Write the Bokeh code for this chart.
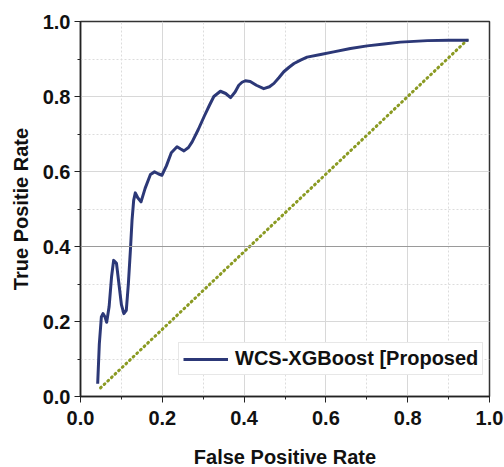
from bokeh.plotting import figure
from bokeh.embed import file_html
from bokeh.resources import INLINE
from bokeh.models import (Range1d, SingleIntervalTicker, PrintfTickFormatter,
                          Legend, LegendItem, Span)

# ROC curve
fpr = [0.042, 0.046, 0.051, 0.055, 0.060, 0.064, 0.070, 0.076, 0.081, 0.088,
       0.094, 0.100, 0.106, 0.112, 0.117, 0.122, 0.126, 0.130, 0.134, 0.140,
       0.148, 0.158, 0.171, 0.181, 0.190, 0.199, 0.210, 0.222, 0.236, 0.245,
       0.253, 0.264, 0.273, 0.288, 0.302, 0.315, 0.326, 0.342, 0.355, 0.367,
       0.378, 0.387, 0.395, 0.403, 0.415, 0.430, 0.448, 0.462, 0.473, 0.485,
       0.497, 0.510, 0.522, 0.538, 0.554, 0.587, 0.619, 0.660, 0.701, 0.742,
       0.782, 0.848, 0.900, 0.949]
tpr = [0.034, 0.140, 0.212, 0.221, 0.212, 0.198, 0.240, 0.320, 0.363, 0.355,
       0.300, 0.245, 0.221, 0.230, 0.300, 0.390, 0.470, 0.523, 0.543, 0.530,
       0.519, 0.555, 0.592, 0.599, 0.594, 0.590, 0.615, 0.650, 0.666, 0.660,
       0.655, 0.664, 0.679, 0.712, 0.746, 0.776, 0.800, 0.814, 0.808, 0.797,
       0.812, 0.830, 0.838, 0.842, 0.840, 0.830, 0.821, 0.826, 0.835, 0.850,
       0.866, 0.878, 0.888, 0.897, 0.905, 0.912, 0.919, 0.928, 0.935, 0.940,
       0.945, 0.949, 0.950, 0.950]
chance_x = [0.049, 0.945]
chance_y = [0.023, 0.950]
series_label = "WCS-XGBoost [Proposed"
x_title = "False Positive Rate"
y_title = "True Positie Rate"

FONT = "Liberation Sans"

p = figure(width=504, height=467, output_backend="svg", toolbar_location=None,
           x_range=Range1d(0, 1), y_range=Range1d(0, 1),
           min_border_left=80, min_border_right=15, min_border_top=21,
           min_border_bottom=71)
p.frame_width = 409
p.frame_height = 375
p.background_fill_color = "white"
p.border_fill_color = "white"
p.outline_line_color = "#333333"
p.outline_line_width = 1.5

for ax, title in ((p.xaxis[0], x_title), (p.yaxis[0], y_title)):
    ax.ticker = SingleIntervalTicker(interval=0.2, num_minor_ticks=2)
    ax.formatter = PrintfTickFormatter(format="%.1f")
    ax.axis_label = title
    ax.axis_label_text_font = FONT
    ax.axis_label_text_font_style = "bold"
    ax.axis_label_text_font_size = "20px"
    ax.axis_label_text_color = "#111111"
    ax.major_label_text_font = FONT
    ax.major_label_text_font_style = "bold"
    ax.major_label_text_font_size = "20px"
    ax.major_label_text_color = "#111111"
    ax.axis_line_color = "#222222"
    ax.axis_line_width = 1.5
    ax.major_tick_line_color = "#222222"
    ax.minor_tick_line_color = "#222222"
    ax.major_tick_out = 6
    ax.major_tick_in = 0
    ax.minor_tick_out = 3
    ax.minor_tick_in = 0

p.xaxis[0].major_label_standoff = 8
p.yaxis[0].major_label_standoff = 4
p.xaxis[0].axis_label_standoff = 18
p.yaxis[0].axis_label_standoff = 8

for g in (p.xgrid[0], p.ygrid[0]):
    g.grid_line_color = "#d8d8d8"
    g.grid_line_width = 1
    g.minor_grid_line_color = "#dcdcdc"
    g.minor_grid_line_dash = "2 2"
    g.minor_grid_line_width = 1

p.add_layout(Span(location=0.4, dimension="width", line_color="#9a9a9a", line_width=1))

p.line(chance_x, chance_y, line_color="#8a9a22", line_width=3, line_dash="1 4",
       line_cap="round")
roc = p.line(fpr, tpr, line_color="#2c3877", line_width=3, line_join="round")

legend = Legend(items=[LegendItem(label=series_label, renderers=[roc])],
                location=(98, 21), orientation="vertical")
legend.label_text_font = FONT
legend.label_text_font_style = "bold"
legend.label_text_font_size = "20px"
legend.label_text_color = "#111111"
legend.glyph_width = 45
legend.glyph_height = 22
legend.label_standoff = 7
legend.padding = 4
legend.margin = 0
legend.border_line_color = "#d0d0d0"
legend.background_fill_alpha = 1
p.add_layout(legend)

open("out.html", "w").write(file_html(p, INLINE))
